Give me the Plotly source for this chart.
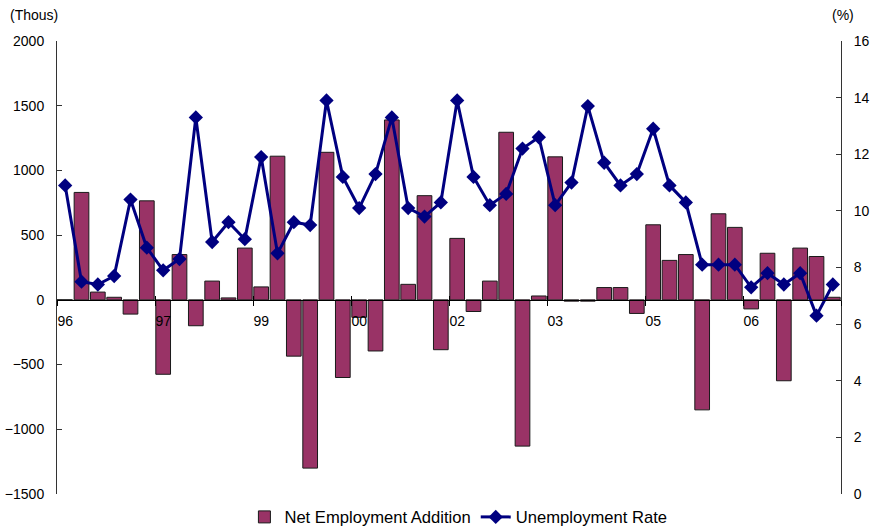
import plotly.graph_objects as go

quarters = [f"{y:02d}Q{q}" for y in [96, 97, 98, 99, 0, 1, 2, 3, 4, 5, 6, 7] for q in (1, 2, 3, 4)]
net_addition = [0, 830, 60, 20, -110, 765, -575, 350, -200, 145, 15, 400,
                100, 1110, -435, -1300, 1140, -600, -135, -395, 1390, 120, 805, -385,
                475, -90, 145, 1295, -1130, 30, 1105, -10, -10, 95, 95, -105,
                580, 305, 350, -850, 665, 560, -70, 360, -625, 400, 335, 20]
unemp_rate = [10.9, 7.5, 7.4, 7.7, 10.4, 8.7, 7.9, 8.3, 13.3, 8.9, 9.6, 9.0,
              11.9, 8.5, 9.6, 9.5, 13.9, 11.2, 10.1, 11.3, 13.3, 10.1, 9.8, 10.3,
              13.9, 11.2, 10.2, 10.6, 12.2, 12.6, 10.2, 11.0, 13.7, 11.7, 10.9, 11.3,
              12.9, 10.9, 10.3, 8.1, 8.1, 8.1, 7.3, 7.8, 7.4, 7.8, 6.3, 7.4]
label_idx = [0, 6, 12, 18, 24, 30, 36, 42]
label_text = ["96", "97", "99", "00", "02", "03", "05", "06"]

xs = list(range(len(quarters)))
FONT = "Liberation Sans, Arial, sans-serif"

fig = go.Figure()
fig.add_trace(go.Bar(
    x=xs, y=net_addition, name="Net Employment Addition",
    marker=dict(color="#993366", line=dict(color="#1a1a1a", width=1)),
    customdata=quarters, hovertemplate="%{customdata}: %{y}<extra></extra>",
))
fig.add_trace(go.Scatter(
    x=xs, y=unemp_rate, name="Unemployment Rate", yaxis="y2",
    mode="lines+markers",
    line=dict(color="#000080", width=3),
    marker=dict(symbol="diamond", size=11, color="#000080"),
    customdata=quarters, hovertemplate="%{customdata}: %{y}%<extra></extra>",
))

zero_pos = 1500 / 3500
fig.update_layout(
    width=870, height=529,
    margin=dict(l=57, r=29, t=41, b=35, autoexpand=False),
    paper_bgcolor="white", plot_bgcolor="white",
    font=dict(family=FONT, size=14, color="black"),
    bargap=0.1,
    showlegend=True,
    legend=dict(orientation="h", x=0.512, y=-0.051, xanchor="center", yanchor="middle",
                font=dict(size=16.6), bgcolor="rgba(0,0,0,0)"),
    xaxis=dict(
        range=[-0.5, len(xs) - 0.5], anchor="free", position=zero_pos,
        tickmode="array", tickvals=label_idx, ticktext=label_text, ticks="",
        ticklabelstandoff=8,
        showline=True, linecolor="black", linewidth=1, showgrid=False, zeroline=False,
        minor=dict(tick0=-0.5, dtick=6, ticks="outside", ticklen=5, tickcolor="black", tickwidth=1),
    ),
    xaxis3=dict(
        range=[-0.5, len(xs) - 0.5], overlaying="x", anchor="free", position=zero_pos,
        tick0=-0.5, dtick=6, ticks="inside", ticklen=4, tickcolor="black",
        showticklabels=False, showline=False, showgrid=False, zeroline=False,
    ),
    yaxis=dict(
        range=[-1500, 2000], dtick=500, ticks="inside", ticklen=5, tickcolor="#333",
        ticklabelstandoff=9,
        showline=True, linecolor="#333", linewidth=1, showgrid=False, zeroline=False,
    ),
    yaxis2=dict(
        range=[0, 16], dtick=2, overlaying="y", side="right", anchor="x",
        ticks="inside", ticklen=5, tickcolor="#333", ticklabelstandoff=9,
        showline=True, linecolor="#333", linewidth=1, showgrid=False, zeroline=False,
    ),
    annotations=[
        dict(text="(Thous)", xref="paper", yref="paper", x=-0.0625, y=1.0574,
             xanchor="left", yanchor="middle", showarrow=False, font=dict(size=14)),
        dict(text="(%)", xref="paper", yref="paper", x=1.003, y=1.0574,
             xanchor="center", yanchor="middle", showarrow=False, font=dict(size=14)),
    ],
)
fig.add_trace(go.Scatter(x=[None], y=[None], xaxis="x3", showlegend=False, hoverinfo="skip"))

fig.write_html("out.html")
